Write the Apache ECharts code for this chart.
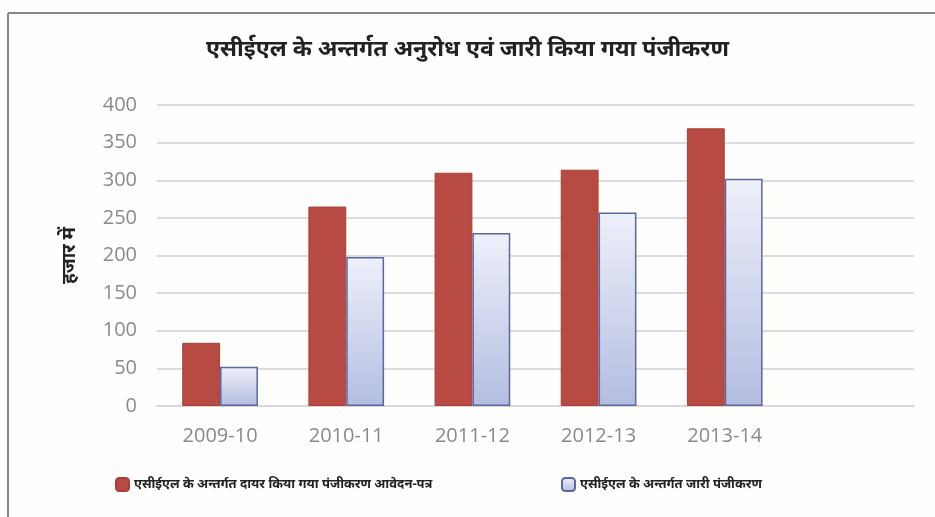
<!DOCTYPE html>
<html><head><meta charset="utf-8">
<script src="https://cdn.jsdelivr.net/npm/echarts@6/dist/echarts.min.js"></script>
<style>html,body{margin:0;padding:0;background:#fefefc}#c{width:935px;height:517px}</style>
</head><body><div id="c"></div>
<script>
const titleText = 'एसीईएल के अन्तर्गत अनुरोध एवं जारी किया गया पंजीकरण';
const yAxisName = 'हजार में';
const categories = ['2009-10', '2010-11', '2011-12', '2012-13', '2013-14', ''];
const seriesNames = ['एसीईएल के अन्तर्गत दायर किया गया पंजीकरण आवेदन-पत्र', 'एसीईएल के अन्तर्गत जारी पंजीकरण'];
const filedValues = [84, 265, 310, 314, 369, null];
const issuedValues = [52, 198, 230, 257, 302, null];
const yTicks = {min: 0, max: 400, interval: 50};

const legendText = {fontSize: 13, fontWeight: 'bold', color: '#222', fontFamily: 'Noto Sans, sans-serif'};
const chart = echarts.init(document.getElementById('c'));
chart.setOption({
  backgroundColor: '#fefefc',
  animation: false,
  title: {text: titleText, left: 'center', top: 33,
    textStyle: {fontSize: 23, fontWeight: 'bold', color: '#222', fontFamily: 'Noto Sans, sans-serif'}},
  graphic: [
    {type: 'line', shape: {x1: 8, y1: 13, x2: 935, y2: 13}, style: {stroke: '#888', lineWidth: 2}},
    {type: 'line', shape: {x1: 8, y1: 13, x2: 8, y2: 517}, style: {stroke: '#888', lineWidth: 2}}
  ],
  legend: [
    {top: 472, left: 110, itemWidth: 13, itemHeight: 13, itemGap: 8, textStyle: legendText, data: [seriesNames[0]]},
    {top: 472, left: 556, itemWidth: 13, itemHeight: 13, itemGap: 8, textStyle: legendText, data: [seriesNames[1]]}
  ],
  grid: {left: 157, right: 21, top: 105, bottom: 111},
  xAxis: {type: 'category', data: categories,
    axisLine: {lineStyle: {color: '#d8d8d8', width: 2}}, axisTick: {show: false},
    axisLabel: {fontSize: 20, color: '#8a8a8a', margin: 20, fontFamily: 'Open Sans, sans-serif'}},
  yAxis: {type: 'value', min: yTicks.min, max: yTicks.max, interval: yTicks.interval,
    name: yAxisName, nameLocation: 'middle', nameGap: 78, nameRotate: 90,
    nameTextStyle: {fontSize: 19, fontWeight: 'bold', color: '#222', fontFamily: 'Noto Sans, sans-serif'},
    axisLine: {show: false}, axisTick: {show: false},
    axisLabel: {fontSize: 20, color: '#8a8a8a', margin: 20, fontFamily: 'Open Sans, sans-serif'},
    splitLine: {lineStyle: {color: '#dcdcdc', width: 2}}},
  series: [
    {name: seriesNames[0], type: 'bar', data: filedValues, barGap: '0%', barCategoryGap: '40%',
     itemStyle: {color: '#b74a42', borderColor: '#a94038', borderWidth: 1}},
    {name: seriesNames[1], type: 'bar', data: issuedValues,
     itemStyle: {color: new echarts.graphic.LinearGradient(0, 0, 0, 1, [
       {offset: 0, color: '#eef0fa'}, {offset: 1, color: '#b3bde0'}]),
       borderColor: '#5b67a3', borderWidth: 1.5}}
  ]
});
</script></body></html>
